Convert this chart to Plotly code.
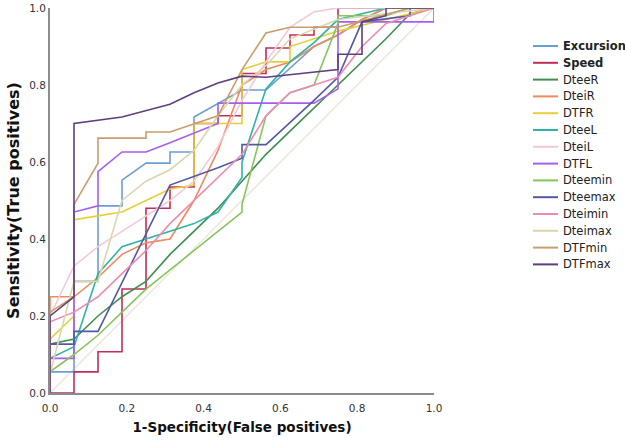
import plotly.graph_objects as go

# ---- data ----
series_names = ["Excursion", "Speed", "DteeR", "DteiR", "DTFR", "DteeL", "DteiL",
                "DTFL", "Dteemin", "Dteemax", "Dteimin", "Dteimax", "DTFmin", "DTFmax"]

excursion_x = [0, 0, 0.0625, 0.0625, 0.125, 0.125, 0.1875, 0.1875, 0.25, 0.3125, 0.3125, 0.375, 0.375, 0.4375, 0.5, 0.5625, 0.625, 0.6875, 0.75, 0.8125, 0.875, 1]
excursion_y = [0, 0.055, 0.055, 0.29, 0.29, 0.486, 0.486, 0.553, 0.597, 0.597, 0.626, 0.626, 0.717, 0.753, 0.787, 0.787, 0.844, 0.90, 0.93, 0.97, 1, 1]

speed_x = [0, 0.0625, 0.0625, 0.125, 0.125, 0.1875, 0.1875, 0.25, 0.25, 0.3125, 0.3125, 0.375, 0.375, 0.4375, 0.4375, 0.5, 0.5, 0.5625, 0.5625, 0.625, 0.625, 0.6875, 0.6875, 0.75, 0.75, 1]
speed_y = [0, 0, 0.055, 0.055, 0.107, 0.107, 0.27, 0.27, 0.48, 0.48, 0.535, 0.535, 0.70, 0.70, 0.72, 0.72, 0.83, 0.83, 0.896, 0.896, 0.93, 0.93, 0.95, 0.95, 1, 1]

dteer_x = [0, 0, 0.0625, 0.125, 0.1875, 0.25, 0.3125, 0.375, 0.4375, 0.5, 0.5625, 0.625, 0.6875, 0.75, 0.8125, 0.875, 0.9375, 1]
dteer_y = [0, 0.127, 0.14, 0.2, 0.25, 0.29, 0.36, 0.42, 0.48, 0.55, 0.62, 0.68, 0.74, 0.80, 0.86, 0.92, 0.985, 1]

dteir_x = [0, 0, 0.0625, 0.125, 0.1875, 0.25, 0.3125, 0.375, 0.4375, 0.5, 0.5625, 0.625, 0.6875, 0.75, 0.8125, 0.875, 1]
dteir_y = [0, 0.25, 0.25, 0.30, 0.36, 0.39, 0.40, 0.50, 0.63, 0.80, 0.84, 0.86, 0.90, 0.93, 0.97, 1, 1]

dtfr_x = [0, 0, 0.0625, 0.0625, 0.125, 0.1875, 0.25, 0.3125, 0.375, 0.375, 0.5, 0.5, 0.5625, 0.625, 0.625, 0.6875, 0.75, 0.875, 1]
dtfr_y = [0, 0.14, 0.2, 0.45, 0.46, 0.47, 0.50, 0.53, 0.54, 0.70, 0.70, 0.84, 0.86, 0.86, 0.90, 0.92, 0.94, 0.97, 1]

dteel_x = [0, 0, 0.0625, 0.125, 0.1875, 0.25, 0.3125, 0.375, 0.4375, 0.5, 0.5, 0.5625, 0.625, 0.6875, 0.75, 0.875, 1]
dteel_y = [0, 0.09, 0.12, 0.31, 0.38, 0.40, 0.42, 0.44, 0.47, 0.56, 0.60, 0.79, 0.86, 0.91, 0.97, 1, 1]

dteil_x = [0, 0, 0.0625, 0.125, 0.1875, 0.25, 0.3125, 0.375, 0.4375, 0.5, 0.5625, 0.625, 0.6875, 0.75, 1]
dteil_y = [0, 0.2, 0.33, 0.38, 0.42, 0.46, 0.50, 0.55, 0.64, 0.76, 0.86, 0.95, 0.99, 1, 1]

dtfl_x = [0, 0, 0.0625, 0.0625, 0.125, 0.125, 0.1875, 0.25, 0.3125, 0.375, 0.4375, 0.4375, 0.6875, 0.75, 0.75, 1, 1]
dtfl_y = [0, 0.09, 0.09, 0.47, 0.486, 0.575, 0.626, 0.626, 0.65, 0.675, 0.70, 0.753, 0.753, 0.79, 0.964, 0.964, 1]

dteemin_x = [0, 0, 0.0625, 0.125, 0.1875, 0.25, 0.3125, 0.375, 0.4375, 0.5, 0.5, 0.5625, 0.625, 0.6875, 0.75, 0.75, 0.875, 0.9375, 1]
dteemin_y = [0, 0.055, 0.10, 0.15, 0.21, 0.27, 0.32, 0.37, 0.42, 0.47, 0.49, 0.72, 0.78, 0.80, 0.96, 0.98, 0.98, 1, 1]

dteemax_x = [0, 0, 0.0625, 0.0625, 0.125, 0.3125, 0.4375, 0.5, 0.5, 0.5625, 0.6875, 0.75, 0.8125, 0.9375, 0.9375, 1]
dteemax_y = [0, 0.127, 0.127, 0.16, 0.16, 0.54, 0.585, 0.61, 0.645, 0.645, 0.76, 0.82, 0.964, 0.98, 1, 1]

dteimin_x = [0, 0, 0.0625, 0.125, 0.1875, 0.25, 0.3125, 0.375, 0.4375, 0.5, 0.5625, 0.625, 0.6875, 0.75, 0.8125, 0.875, 1]
dteimin_y = [0, 0.185, 0.21, 0.25, 0.31, 0.37, 0.44, 0.50, 0.56, 0.62, 0.72, 0.78, 0.80, 0.82, 0.90, 0.96, 1]

dteimax_x = [0, 0, 0.0625, 0.125, 0.1875, 0.25, 0.3125, 0.375, 0.4375, 0.5, 0.5625, 0.625, 0.75, 1]
dteimax_y = [0, 0.05, 0.29, 0.29, 0.50, 0.55, 0.58, 0.63, 0.72, 0.80, 0.85, 0.92, 0.97, 1]

dtfmin_x = [0, 0, 0.0625, 0.0625, 0.125, 0.125, 0.25, 0.25, 0.3125, 0.375, 0.4375, 0.5, 0.5625, 0.625, 0.75, 0.9375, 1]
dtfmin_y = [0, 0.21, 0.25, 0.49, 0.597, 0.662, 0.662, 0.678, 0.678, 0.70, 0.72, 0.84, 0.935, 0.95, 0.95, 1, 1]

dtfmax_x = [0, 0, 0.0625, 0.0625, 0.1875, 0.3125, 0.375, 0.4375, 0.5, 0.5625, 0.75, 0.75, 0.8125, 0.8125, 0.875, 0.875, 1]
dtfmax_y = [0, 0.2, 0.25, 0.70, 0.717, 0.75, 0.78, 0.805, 0.823, 0.82, 0.84, 0.88, 0.88, 0.964, 0.98, 1, 1]

ref_x = [0, 1]
ref_y = [0, 1]

tick_vals = [0.0, 0.2, 0.4, 0.6, 0.8, 1.0]
tick_text = ["0.0", "0.2", "0.4", "0.6", "0.8", "1.0"]

series_x = [excursion_x, speed_x, dteer_x, dteir_x, dtfr_x, dteel_x, dteil_x,
            dtfl_x, dteemin_x, dteemax_x, dteimin_x, dteimax_x, dtfmin_x, dtfmax_x]
series_y = [excursion_y, speed_y, dteer_y, dteir_y, dtfr_y, dteel_y, dteil_y,
            dtfl_y, dteemin_y, dteemax_y, dteimin_y, dteimax_y, dtfmin_y, dtfmax_y]

colors = ["#6b9fd3", "#c22d55", "#3f8f4f", "#ec8a5c", "#e6cf3a", "#2fb3a6", "#f5c8d8",
          "#a65ef0", "#86c55e", "#5358a6", "#ef8bb2", "#dcd6ae", "#c99d6c", "#5f3f7e"]

# ---- layout constants (pixels) ----
W, H = 625, 444
ML, MR, MT, MB = 50, 191, 8, 51
PW, PH = W - ML - MR, H - MT - MB

fig = go.Figure()

fig.add_trace(go.Scatter(x=ref_x, y=ref_y, mode="lines", showlegend=False,
                         line=dict(color="#e9e5d6", width=1.3), hoverinfo="skip"))

for name, xs, ys, c in zip(series_names, series_x, series_y, colors):
    fig.add_trace(go.Scatter(x=xs, y=ys, mode="lines", name=name, showlegend=False,
                             line=dict(color=c, width=1.6)))

# ---- compact legend (line sample + label), placed in paper coordinates ----
leg_top_px, leg_step_px = 46, 16.8
line_x0_px, line_x1_px, text_x_px = 533, 558, 561


def px_to_paper_x(px):
    return (px - ML) / PW


def px_to_paper_y(py):
    return (H - MB - py) / PH


for i, (name, c) in enumerate(zip(series_names, colors)):
    py = leg_top_px + i * leg_step_px
    yy = px_to_paper_y(py)
    fig.add_shape(type="line", xref="paper", yref="paper",
                  x0=px_to_paper_x(line_x0_px), x1=px_to_paper_x(line_x1_px),
                  y0=yy, y1=yy, line=dict(color=c, width=2))
    label = f"<b>{name}</b>" if name in ("Excursion", "Speed") else name
    fig.add_annotation(xref="paper", yref="paper", x=px_to_paper_x(text_x_px), y=yy,
                       text=label, showarrow=False, xanchor="left", yanchor="middle",
                       font=dict(family="DejaVu Sans", size=11.5, color="#222222"))

axis_common = dict(range=[0, 1], tickvals=tick_vals, ticktext=tick_text,
                   showgrid=False, zeroline=False, showline=True,
                   linecolor="#8c8c8c", linewidth=2, ticks="", automargin=False,
                   tickfont=dict(family="DejaVu Sans", size=10.5, color="#333333"))

fig.update_layout(
    width=W, height=H,
    margin=dict(l=ML, r=MR, t=MT, b=MB),
    paper_bgcolor="white", plot_bgcolor="white",
    font=dict(family="DejaVu Sans", color="#222222"),
    showlegend=False,
    xaxis=dict(**axis_common, ticklabelstandoff=4,
               title=dict(text="<b>1-Specificity(False positives)</b>",
                          font=dict(family="DejaVu Sans", size=13.5, color="#111111"),
                          standoff=10)),
    yaxis=dict(**axis_common,
               title=dict(text="<b>Sensitivity(True positives)</b>",
                          font=dict(family="DejaVu Sans", size=16, color="#111111"),
                          standoff=6)),
)

fig.write_html("out.html", config={"displayModeBar": False},
               post_script="document.body.style.margin='0';")
